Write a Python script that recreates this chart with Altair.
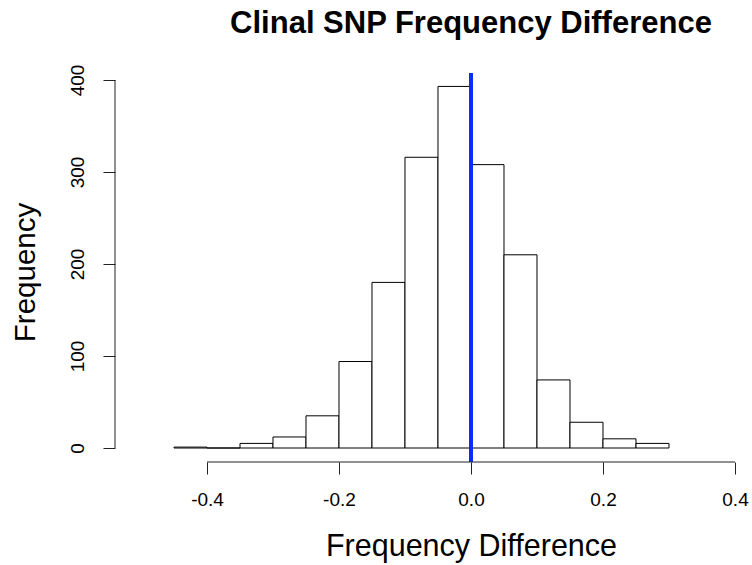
import altair as alt
import pandas as pd

# Histogram bins (width 0.05) and counts
bin_starts = [-0.45, -0.40, -0.35, -0.30, -0.25, -0.20, -0.15, -0.10, -0.05,
              0.00, 0.05, 0.10, 0.15, 0.20, 0.25]
counts = [1, 0, 5, 12, 35, 94, 180, 316, 393, 308, 210, 74, 28, 10, 5]
bin_width = 0.05

x_ticks = [-0.4, -0.2, 0.0, 0.2, 0.4]
y_ticks = [0, 100, 200, 300, 400]

df = pd.DataFrame({
    "start": bin_starts,
    "end": [round(s + bin_width, 2) for s in bin_starts],
    "count": counts,
})

FONT = "Liberation Sans"
W, H = 625, 389
xscale = alt.Scale(domain=[-0.5394, 0.4076], nice=False, zero=False)
yscale = alt.Scale(domain=[-15.2, 407.6], nice=False, zero=False)

x_axis = alt.Axis(
    values=x_ticks, domain=False, grid=False, ticks=True, tickSize=12,
    tickColor="#222", tickWidth=1, labelFontSize=19, labelFont=FONT,
    labelColor="black", labelPadding=16, offset=0,
    labelExpr="replace(format(datum.value, '.1f'), '\u2212', '-')",
    title="Frequency Difference", titleFontSize=30.5, titleFont=FONT,
    titleFontWeight="normal", titleColor="black", titleX=356, titleY=93,
    titleAlign="center", titleBaseline="alphabetic",
)
y_axis = alt.Axis(
    values=y_ticks, domain=False, grid=False, ticks=True, tickSize=12,
    tickColor="#222", tickWidth=1, labelFontSize=19, labelFont=FONT,
    labelColor="black", labelAngle=-90, labelAlign="center",
    labelBaseline="bottom", labelPadding=16,
    title="Frequency", titleFontSize=29.5, titleFont=FONT,
    titleFontWeight="normal", titleColor="black", titleX=-81, titleY=199,
    titleAngle=-90, titleAlign="center", titleBaseline="alphabetic",
)

bars = alt.Chart(df).mark_bar(fill="white", stroke="black", strokeWidth=1).encode(
    x=alt.X("start:Q", scale=xscale, axis=x_axis),
    x2="end:Q",
    y=alt.Y("count:Q", scale=yscale, axis=y_axis),
    y2=alt.datum(0),
)

vline = alt.Chart(pd.DataFrame({"x": [0.0]})).mark_rule(
    color="#0a2cff", strokeWidth=4
).encode(
    x=alt.X("x:Q", scale=xscale),
    y=alt.value(0),
    y2=alt.value(H),
)

yline = alt.Chart(pd.DataFrame({"a": [0], "b": [400]})).mark_rule(
    color="#222", strokeWidth=1
).encode(
    x=alt.value(0),
    y=alt.Y("a:Q", scale=yscale),
    y2="b:Q",
)

xline = alt.Chart(pd.DataFrame({"a": [x_ticks[0]], "b": [x_ticks[-1]]})).mark_rule(
    color="#222", strokeWidth=1
).encode(
    x=alt.X("a:Q", scale=xscale),
    x2="b:Q",
    y=alt.value(H),
)

chart = alt.layer(bars, vline, yline, xline).properties(
    width=W, height=H,
    background="white",
    title=alt.TitleParams(
        "Clinal SNP Frequency Difference", fontSize=31, font=FONT,
        fontWeight="bold", color="black", anchor="middle", dx=43.5, offset=24,
    ),
    autosize=alt.AutoSizeParams(type="none"),
    padding={"left": 115, "top": 73, "right": 12, "bottom": 103},
).configure_view(stroke="transparent").configure_axis(
    domain=False, grid=False
)

chart.save("out.html", embed_options={"renderer": "svg", "actions": False})
